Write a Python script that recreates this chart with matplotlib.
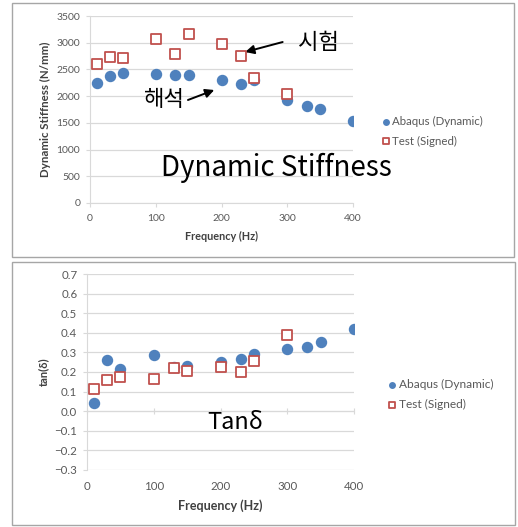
import matplotlib
matplotlib.use("Agg")
import matplotlib.pyplot as plt
from matplotlib.patches import Rectangle

# --- data ---
freq_abaqus = [10, 30, 50, 100, 130, 150, 200, 230, 250, 300, 330, 350, 400]
stiff_abaqus = [2240, 2375, 2425, 2410, 2390, 2390, 2300, 2225, 2300, 1930, 1815, 1755, 1535]
tan_abaqus = [0.044, 0.262, 0.216, 0.287, 0.224, 0.231, 0.253, 0.265, 0.291, 0.316, 0.33, 0.352, 0.42]

freq_test = [10, 30, 50, 100, 130, 150, 200, 230, 250, 300]
stiff_test = [2610, 2735, 2715, 3065, 2785, 3170, 2970, 2745, 2345, 2040]
tan_test = [0.112, 0.16, 0.173, 0.165, 0.219, 0.207, 0.228, 0.199, 0.257, 0.39]

x_ticks = [0, 100, 200, 300, 400]
stiff_ticks = [0, 500, 1000, 1500, 2000, 2500, 3000, 3500]
tan_ticks = [-0.3, -0.2, -0.1, 0, 0.1, 0.2, 0.3, 0.4, 0.5, 0.6, 0.7]

W, H = 518, 527
BLUE = "#4f81bd"
RED = "#c0504d"
GRID = "#d9d9d9"
TXT = "#595959"
FONT = ["Lato", "DejaVu Sans"]
KR = ["Noto Sans CJK KR", "DejaVu Sans"]

plt.rcParams["font.family"] = FONT

fig = plt.figure(figsize=(W / 100, H / 100), dpi=100)


def px_axes(x0, y0, x1, y1):
    # pixel box (top-left origin) -> figure axes
    return fig.add_axes([x0 / W, 1 - y1 / H, (x1 - x0) / W, (y1 - y0) / H])


def frame(x0, y0, x1, y1):
    fig.patches.append(Rectangle((x0 / W, 1 - y1 / H), (x1 - x0) / W, (y1 - y0) / H,
                                 transform=fig.transFigure, fill=False,
                                 edgecolor="#a6a6a6", linewidth=1.0))


def style(ax, fs):
    ax.set_xlim(0, 400)
    ax.set_xticks(x_ticks)
    ax.grid(axis="y", color=GRID, linewidth=0.9)
    ax.set_axisbelow(True)
    for s in ["top", "right"]:
        ax.spines[s].set_visible(False)
    ax.spines["left"].set_color(GRID)
    ax.spines["bottom"].set_color(GRID)
    ax.tick_params(axis="y", colors=GRID, labelcolor=TXT, labelsize=fs, length=3, pad=4)
    ax.tick_params(axis="x", colors=GRID, labelcolor=TXT, labelsize=fs, length=3, pad=5)


def arrow(ax, tail, tip):
    ax.annotate("", xy=tip, xytext=tail,
                arrowprops=dict(arrowstyle="-|>", color="black", lw=1.4,
                                mutation_scale=13, shrinkA=0, shrinkB=0))


def legend(ax, x, y, fs):
    ax.legend(loc="upper left", bbox_to_anchor=(x / W, 1 - y / H),
              bbox_transform=fig.transFigure, frameon=False, fontsize=fs,
              handletextpad=0.05, markerscale=0.55, labelspacing=0.75,
              handlelength=1.0, borderpad=0, labelcolor=TXT)


# ---------- top panel: dynamic stiffness ----------
frame(12, 3, 514, 257)
ax1 = px_axes(90, 16, 353, 203)
style(ax1, 7.5)
ax1.set_ylim(0, 3500)
ax1.set_yticks(stiff_ticks)
ax1.scatter(freq_abaqus, stiff_abaqus, s=52, color=BLUE, zorder=3, label="Abaqus (Dynamic)")
ax1.scatter(freq_test, stiff_test, s=62, marker="s", facecolor="white", edgecolor=RED,
            linewidth=1.3, zorder=4, label="Test (Signed)")
ax1.set_xlabel("Frequency (Hz)", fontsize=7.8, fontweight="bold", color="#404040", labelpad=6)
ax1.set_ylabel("Dynamic Stiffness (N/mm)", fontsize=8.3, fontweight="bold", color="#404040",
               labelpad=4)
ax1.text(283, 655, "Dynamic Stiffness", fontsize=20, ha="center", va="center",
         family=KR, fontweight="medium", color="black")
ax1.text(347, 3013, "시험", fontsize=16, ha="center", va="center", family=KR)
arrow(ax1, (293, 3013), (236, 2826))
ax1.text(114, 1928, "해석", fontsize=16, ha="center", va="center", family=KR)
arrow(ax1, (149, 1928), (189, 2115))
legend(ax1, 374, 110, 8.3)

# ---------- bottom panel: tan delta ----------
frame(12, 262, 515, 525)
ax2 = px_axes(87, 274, 354, 470)
style(ax2, 8.3)
ax2.set_ylim(-0.3, 0.7)
ax2.set_yticks(tan_ticks)
ax2.spines["bottom"].set_position(("data", 0))
ax2.tick_params(axis="x", labelbottom=False, direction="inout", length=4)
sec = ax2.secondary_xaxis(0)
sec.set_xticks(x_ticks)
sec.spines["bottom"].set_visible(False)
sec.tick_params(length=0, labelsize=8.3, labelcolor=TXT, pad=8)
sec.set_xlabel("Frequency (Hz)", fontsize=9, fontweight="bold", color="#404040", labelpad=5)
ax2.scatter(freq_abaqus, tan_abaqus, s=52, color=BLUE, zorder=3, label="Abaqus (Dynamic)")
ax2.scatter(freq_test, tan_test, s=62, marker="s", facecolor="white", edgecolor=RED,
            linewidth=1.3, zorder=4, label="Test (Signed)")
ax2.set_ylabel("tan(δ)", fontsize=8, fontweight="bold", color="#404040", labelpad=4)
ax2.text(222, -0.06, "Tanδ", fontsize=17, ha="center", va="center", color="black",
         family=KR)
legend(ax2, 380, 373, 8.6)

fig.savefig("out.png", dpi=100)
